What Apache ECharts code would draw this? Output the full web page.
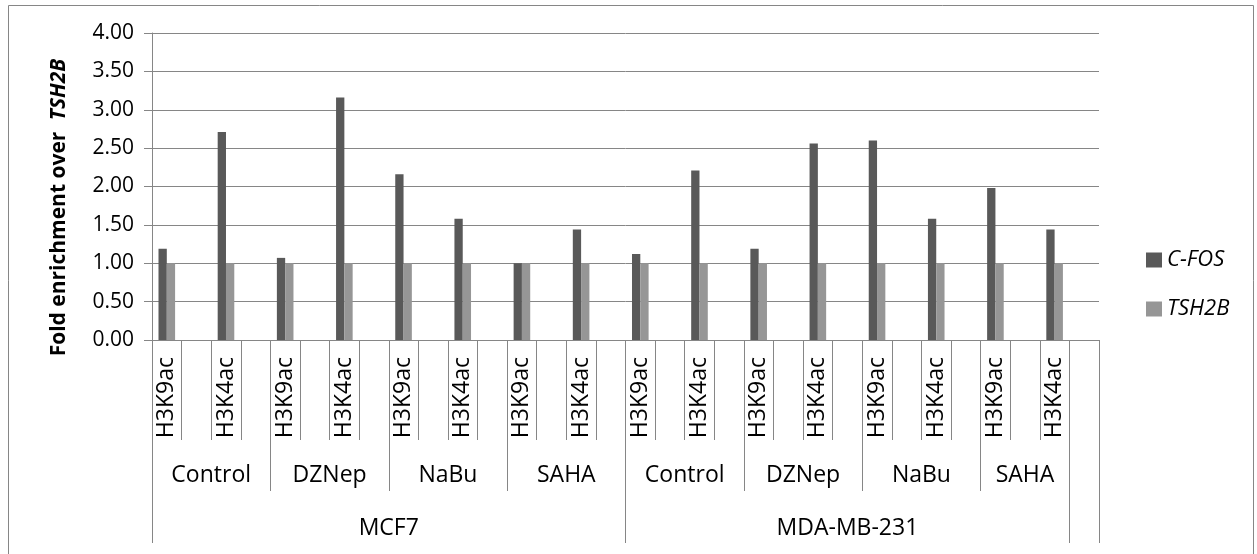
<!DOCTYPE html>
<html><head><meta charset="utf-8">
<script src="https://cdn.jsdelivr.net/npm/echarts@6/dist/echarts.min.js"></script>
<style>html,body{margin:0;padding:0;background:#fff}#c{width:1257px;height:554px}</style>
</head><body><div id="c"></div>
<script>
// Lowest-level category labels (32 slots, blanks are spacer categories)
const categories = [
  'H3K9ac','','H3K4ac','', 'H3K9ac','','H3K4ac','', 'H3K9ac','','H3K4ac','', 'H3K9ac','','H3K4ac','',
  'H3K9ac','','H3K4ac','', 'H3K9ac','','H3K4ac','', 'H3K9ac','','H3K4ac','', 'H3K9ac','','H3K4ac', ''
];
const cfos = [
  1.19,null,2.71,null, 1.07,null,3.16,null, 2.16,null,1.58,null, 1.00,null,1.44,null,
  1.12,null,2.21,null, 1.19,null,2.56,null, 2.60,null,1.58,null, 1.98,null,1.44, null
];
const tsh2b = [
  1.00,null,1.00,null, 1.00,null,1.00,null, 1.00,null,1.00,null, 1.00,null,1.00,null,
  1.00,null,1.00,null, 1.00,null,1.00,null, 1.00,null,1.00,null, 1.00,null,1.00, null
];
const treatments = ['Control','DZNep','NaBu','SAHA','Control','DZNep','NaBu','SAHA'];
const treatmentSpans = [4,4,4,4,4,4,4,3];
const cellLines = ['MCF7','MDA-MB-231'];
const cellLineSpans = [16,15];
const yTicks = ['0.00','0.50','1.00','1.50','2.00','2.50','3.00','3.50','4.00'];

function groupInfo(names, spans) {
  const bounds = [0], centers = [], map = {};
  let acc = 0;
  spans.forEach((s, i) => {
    const c = acc + s / 2;
    centers.push(c); map[String(c)] = names[i];
    acc += s; bounds.push(acc);
  });
  if (acc < categories.length) bounds.push(categories.length);
  return {bounds, centers, map};
}
const lvl2 = groupInfo(treatments, treatmentSpans);
const lvl3 = groupInfo(cellLines, cellLineSpans);

const GRID = '#868686';
const FONT = 'Open Sans';
const chart = echarts.init(document.getElementById('c'));
chart.setOption({
  animation: false,
  backgroundColor: '#fff',
  graphic: [{
    type: 'rect', left: 6, top: 3, silent: true,
    shape: {width: 1245, height: 560},
    style: {fill: 'none', stroke: '#868686', lineWidth: 1}
  }],
  grid: {left: 152, right: 158, top: 33, bottom: 214, containLabel: false},
  legend: {
    orient: 'vertical', left: 1141, top: 244,
    itemWidth: 16, itemHeight: 15, itemGap: 27,
    icon: 'rect',
    textStyle: {fontFamily: FONT, fontSize: 22, fontStyle: 'italic', color: '#000', lineHeight: 22},
    data: ['C-FOS', 'TSH2B']
  },
  xAxis: [
    {
      type: 'category', data: categories, position: 'bottom',
      axisLine: {show: true, lineStyle: {color: GRID, width: 1}},
      axisTick: {show: true, interval: 0, length: 100, lineStyle: {color: GRID}},
      axisLabel: {interval: 0, rotate: 90, margin: 17, fontFamily: FONT, fontSize: 23, color: '#000'},
      splitLine: {show: false}
    },
    {
      type: 'value', min: 0, max: categories.length, position: 'bottom', offset: 100,
      axisLine: {show: false},
      axisTick: {show: true, customValues: lvl2.bounds, length: 51, lineStyle: {color: GRID}},
      axisLabel: {customValues: lvl2.centers, margin: 24, fontFamily: FONT, fontSize: 23, color: '#000',
        formatter: v => lvl2.map[String(v)] || ''},
      splitLine: {show: false}
    },
    {
      type: 'value', min: 0, max: categories.length, position: 'bottom', offset: 151,
      axisLine: {show: false},
      axisTick: {show: true, customValues: lvl3.bounds, length: 52, lineStyle: {color: GRID}},
      axisLabel: {customValues: lvl3.centers, margin: 26, fontFamily: FONT, fontSize: 23, color: '#000',
        formatter: v => lvl3.map[String(v)] || ''},
      splitLine: {show: false}
    }
  ],
  yAxis: {
    type: 'value', min: 0, max: 4, interval: 0.5,
    name: '{a|Fold enrichment over }{b|TSH2B}',
    nameLocation: 'middle', nameGap: 82, nameRotate: 90,
    nameTextStyle: {
      padding: [0, 42, 0, 0],
      rich: {
        a: {fontFamily: FONT, fontSize: 21, fontWeight: 'bold', color: '#000'},
        b: {fontFamily: FONT, fontSize: 21, fontWeight: 'bold', fontStyle: 'italic', color: '#000', padding: [0,0,0,6]}
      }
    },
    axisLine: {show: true, lineStyle: {color: GRID}},
    axisTick: {show: true, length: 8, lineStyle: {color: GRID}},
    axisLabel: {margin: 18, fontFamily: FONT, fontSize: 21, color: '#000',
      formatter: v => yTicks[Math.round(v / 0.5)]},
    splitLine: {show: true, lineStyle: {color: GRID, width: 1}}
  },
  series: [
    {name: 'C-FOS', type: 'bar', data: cfos, barWidth: 8.3, barGap: '0%', itemStyle: {color: '#595959'}},
    {name: 'TSH2B', type: 'bar', data: tsh2b, barWidth: 8.3, barGap: '0%', itemStyle: {color: '#969696'}}
  ]
});
</script></body></html>
